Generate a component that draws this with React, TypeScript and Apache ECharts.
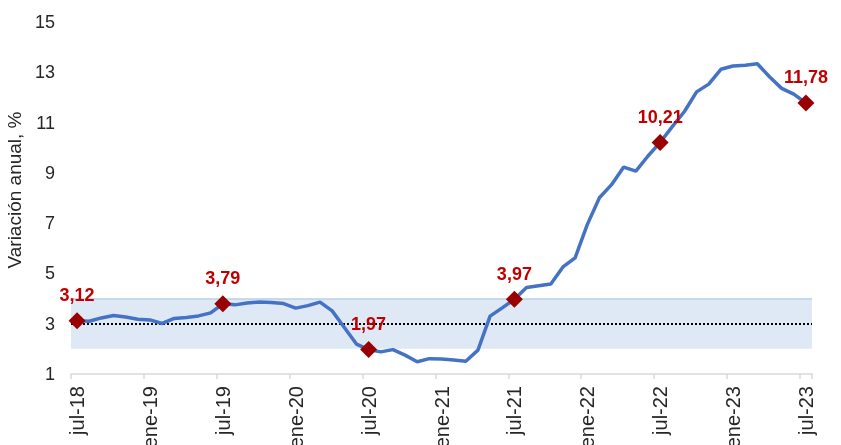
import React, { useEffect, useRef } from "react";
import * as echarts from "echarts";

const monthNames = ["jul", "ago", "sep", "oct", "nov", "dic", "ene", "feb", "mar", "abr", "may", "jun"];
const categories: string[] = [];
for (let i = 0; i < 61; i++) {
  categories.push(`${monthNames[i % 12]}-${18 + Math.floor((i + 6) / 12)}`);
}

// Variación anual del IPC, %
const values = [
  3.12, 3.10, 3.23, 3.33, 3.27, 3.18,
  3.15, 3.01, 3.21, 3.25, 3.31, 3.43,
  3.79, 3.75, 3.82, 3.86, 3.84, 3.80,
  3.62, 3.72, 3.86, 3.51, 2.85, 2.19,
  1.97, 1.88, 1.97, 1.75, 1.49, 1.61,
  1.60, 1.56, 1.51, 1.95, 3.30, 3.63,
  3.97, 4.44, 4.51, 4.58, 5.26, 5.62,
  6.94, 8.01, 8.53, 9.23, 9.07, 9.67,
  10.21, 10.84, 11.44, 12.22, 12.53, 13.12,
  13.25, 13.28, 13.34, 12.82, 12.36, 12.13,
  11.78,
];

const highlightIdx = [0, 12, 24, 36, 48, 60];
const yTicks = [1, 3, 5, 7, 9, 11, 13, 15];
const targetValue = 3;
const bandRange = [2, 4];

const FONT = "'Liberation Sans', Arial, sans-serif";

export default function App() {
  const ref = useRef<HTMLDivElement>(null);
  useEffect(() => {
    if (!ref.current) return;
    const chart = echarts.init(ref.current, undefined, { renderer: "svg" });
    chart.setOption({
      animation: false,
      grid: { left: 71, right: 29, top: 22, bottom: 71, outerBoundsMode: "none", containLabel: false },
      xAxis: {
        type: "category",
        data: categories,
        boundaryGap: true,
        axisLine: { lineStyle: { color: "#D9D9D9", width: 1.5 } },
        axisTick: { show: true, interval: 5, length: 5, lineStyle: { color: "#D9D9D9", width: 1.5 } },
        axisLabel: { interval: 5, rotate: 90, margin: 12, fontSize: 20, color: "#262626", fontFamily: FONT },
        splitLine: { show: false },
      },
      yAxis: {
        type: "value",
        min: yTicks[0],
        max: yTicks[yTicks.length - 1],
        name: "Variación anual, %",
        nameLocation: "middle",
        nameGap: 43,
        nameRotate: 90,
        nameTextStyle: { fontSize: 19, color: "#262626", fontFamily: FONT, padding: [0, 0, 0, 16] },
        axisLine: { show: false },
        axisTick: { show: false },
        splitLine: { show: false },
        axisLabel: { customValues: yTicks, margin: 16, fontSize: 18, color: "#262626", fontFamily: FONT },
      },
      series: [
        {
          type: "line",
          data: values,
          symbol: "none",
          z: 3,
          lineStyle: { color: "#4472C4", width: 3.5 },
          markArea: {
            silent: true,
            z: 1,
            itemStyle: { color: "#DEE9F5" },
            data: [[{ yAxis: bandRange[0] }, { yAxis: bandRange[1] }]],
          },
          markLine: {
            silent: true,
            z: 2,
            symbol: "none",
            label: { show: false },
            data: [
              { yAxis: targetValue, lineStyle: { color: "#000", type: [2, 2], width: 2 } },
              { yAxis: bandRange[1], lineStyle: { color: "#BDD0EA", type: "solid", width: 1.5 } },
            ],
          },
        },
        {
          type: "scatter",
          data: highlightIdx.map((i) => [i, values[i]]),
          symbol: "diamond",
          symbolSize: 17,
          z: 4,
          itemStyle: { color: "#990000", opacity: 1 },
          label: {
            show: true,
            position: "top",
            distance: 8,
            formatter: (p: any) => p.value[1].toFixed(2).replace(".", ","),
            color: "#C00000",
            opacity: 1,
            fontSize: 18,
            fontWeight: "bold",
            fontFamily: FONT,
          },
        },
      ],
    });
    return () => chart.dispose();
  }, []);
  return <div ref={ref} style={{ position: "fixed", left: 0, top: 0, width: 841, height: 445 }} />;
}
